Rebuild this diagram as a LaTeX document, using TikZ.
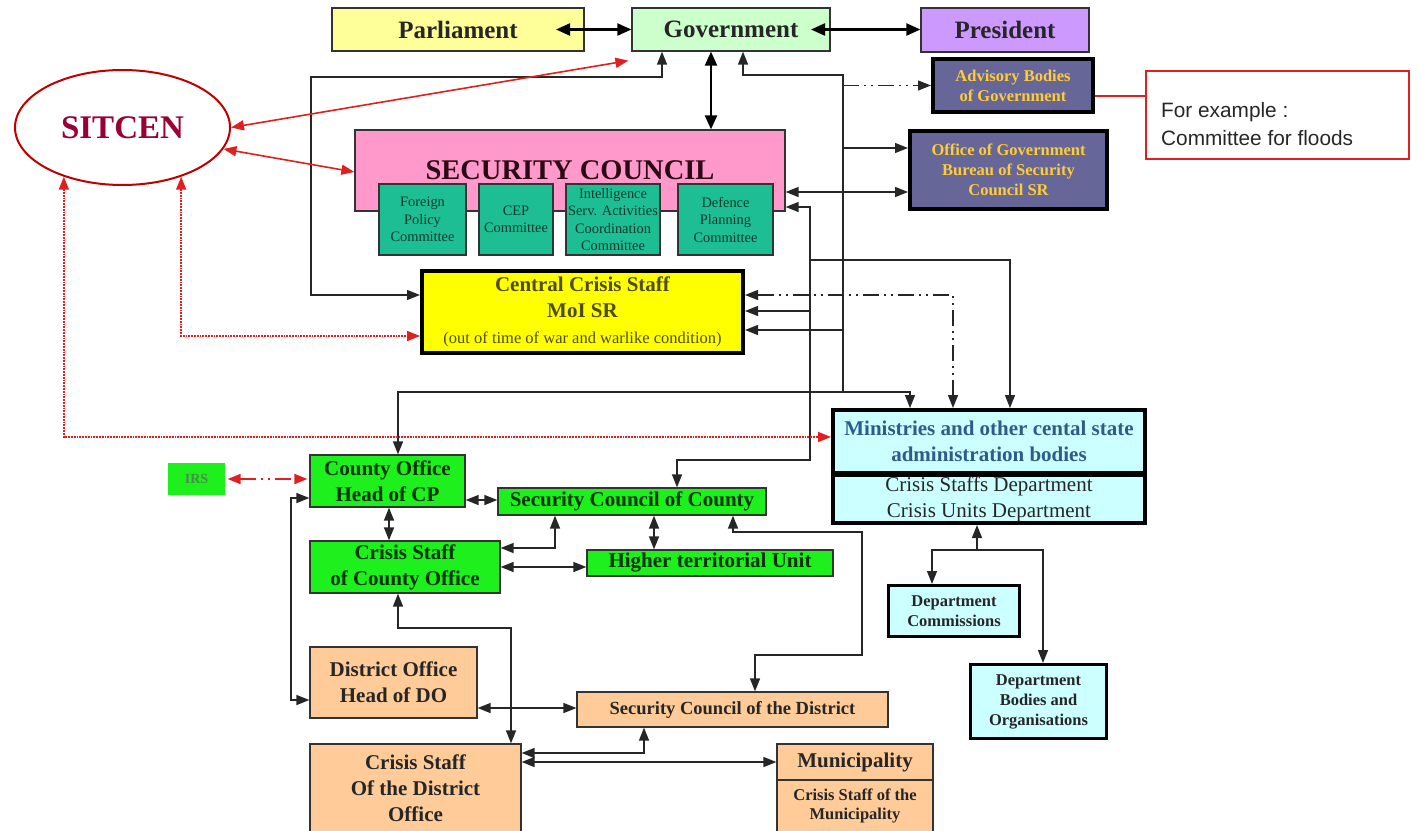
\documentclass[tikz,border=0pt]{standalone}
\usepackage{fontspec}
\setmainfont{Liberation Serif}
\setsansfont{Liberation Sans}
\usetikzlibrary{arrows.meta,shapes.geometric}

\definecolor{parlyellow}{HTML}{FFFF99}
\definecolor{govgreen}{HTML}{CCFFCC}
\definecolor{preslilac}{HTML}{CC99FF}
\definecolor{scpink}{HTML}{FF99CC}
\definecolor{sctext}{HTML}{2B0A14}
\definecolor{comteal}{HTML}{1EBE94}
\definecolor{comtext}{HTML}{0E3A2C}
\definecolor{staffyellow}{HTML}{FFFF00}
\definecolor{stafftext}{HTML}{4E4E0C}
\definecolor{advslate}{HTML}{666699}
\definecolor{advgold}{HTML}{FFCC33}
\definecolor{minicyan}{HTML}{CCFFFF}
\definecolor{miniblue}{HTML}{2E5C8A}
\definecolor{countygreen}{HTML}{1EF01E}
\definecolor{countytext}{HTML}{003300}
\definecolor{irstext}{HTML}{4C8C4C}
\definecolor{districtpeach}{HTML}{FFCC99}
\definecolor{sitcenred}{HTML}{990033}
\definecolor{linkred}{HTML}{E02020}

\tikzset{
  box/.style={draw=black!80, line width=1.2pt, inner sep=0pt, align=center, font=\bfseries},
  heavybox/.style={box, draw=black, line width=4pt},
  topfont/.style={font=\bfseries\fontsize{25}{29}\selectfont, text=black!85},
  comfont/.style={font=\fontsize{14.4}{17.5}\selectfont, text=comtext},
  advfont/.style={font=\bfseries\fontsize{16.5}{20}\selectfont, text=advgold},
  deptfont/.style={font=\bfseries\fontsize{16.5}{20}\selectfont, text=black!85},
  bigfont/.style={font=\bfseries\fontsize{21}{26}\selectfont},
  countybox/.style={box, bigfont, fill=countygreen, text=countytext},
  districtbox/.style={box, bigfont, fill=districtpeach, text=black!85},
  conn/.style={draw=black!85, line width=1.4pt, >={Triangle[length=13pt,width=10pt]}},
  bigconn/.style={conn, draw=black, line width=2.2pt, >={Triangle[length=14pt,width=12pt]}},
  redconn/.style={draw=linkred, line width=1.6pt, >={Triangle[length=13pt,width=10pt]}},
  dotline/.style={redconn, line width=1.8pt, densely dotted},
  dashdotline/.style={dash pattern=on 16pt off 5pt on 2pt off 5pt on 2pt off 5pt},
}

\begin{document}
\begin{tikzpicture}[x=1pt,y=-1pt]
\useasboundingbox (0,0) rectangle (1419,830);

% top row
\node[box, topfont, fill=parlyellow, minimum width=252pt, minimum height=43pt] (parl) at (458,29.5) {Parliament};
\node[box, topfont, fill=govgreen, minimum width=198pt, minimum height=43pt] (gov) at (731,29.5) {Government};
\node[box, topfont, fill=preslilac, minimum width=168pt, minimum height=44pt] (pres) at (1005,30) {President};

\node[draw=red!75!black, line width=2pt, ellipse, minimum width=215pt, minimum height=115pt,
      font=\bfseries\fontsize{33}{38}\selectfont, text=sitcenred] (sitcen) at (122.5,127.5) {SITCEN};

% security council and committees
\node[box, fill=scpink, minimum width=430pt, minimum height=81pt,
      font=\bfseries\fontsize{28.5}{32}\selectfont, text=sctext] (seccouncil) at (570,170.5) {SECURITY COUNCIL};
\node[box, comfont, fill=comteal, minimum width=87pt, minimum height=71pt] (foreign) at (422.5,219.5) {Foreign\\Policy\\Committee};
\node[box, comfont, fill=comteal, minimum width=74pt, minimum height=71pt] (cep) at (516,219.5) {CEP\\Committee};
\node[box, comfont, fill=comteal, minimum width=94pt, minimum height=71pt] (intel) at (613,219.5) {Intelligence\\Serv. Activities\\Coordination\\Committee};
\node[box, comfont, fill=comteal, minimum width=95pt, minimum height=71pt] (defence) at (725.5,219.5) {Defence\\Planning\\Committee};

\node[heavybox, fill=staffyellow, text=stafftext, bigfont, minimum width=321pt, minimum height=82pt] (ccs) at (582.5,312)
  {Central Crisis Staff\\MoI SR\\{\mdseries\fontsize{16.5}{20}\selectfont (out of time of war and warlike condition)}};

% government bodies on the right
\node[heavybox, advfont, fill=advslate, minimum width=160pt, minimum height=53pt] (advisory) at (1013,85.5) {Advisory Bodies\\of Government};
\node[heavybox, advfont, fill=advslate, minimum width=197pt, minimum height=78pt] (office) at (1008.5,170) {Office of Government\\Bureau of Security\\Council SR};
\node[draw=linkred, line width=1.5pt, fill=white, minimum width=263pt, minimum height=88pt] (example) at (1277.5,115) {};
\node[anchor=west, align=left, inner sep=0pt, font=\sffamily\fontsize{20.8}{28}\selectfont, text=black!85] (exampletext) at (1161,124)
  {For example :\\Committee for floods};

% ministries
\node[heavybox, fill=minicyan, text=miniblue, bigfont, minimum width=312pt, minimum height=63pt] (ministop) at (989,441.5)
  {Ministries and other cental state\\administration bodies};
\node[heavybox, fill=minicyan, text=black!85, font=\fontsize{21}{26}\selectfont, minimum width=312pt, minimum height=48pt] (minibot) at (989,499)
  {Crisis Staffs Department\\Crisis Units Department};
\node[box, deptfont, fill=minicyan, draw=black, line width=3pt, minimum width=131pt, minimum height=51pt] (deptcomm) at (954,611) {Department\\Commissions};
\node[box, deptfont, fill=minicyan, draw=black, line width=3pt, minimum width=136pt, minimum height=74pt] (deptbodies) at (1038.5,701.5) {Department\\Bodies and\\Organisations};

% county level
\node[box, fill=countygreen, draw=none, text=irstext, font=\bfseries\fontsize{14}{16}\selectfont, minimum width=57pt, minimum height=32pt] (irs) at (196.5,479) {IRS};
\node[countybox, minimum width=155pt, minimum height=52pt] (county) at (387.5,481) {County Office\\Head of CP};
\node[countybox, minimum width=268pt, minimum height=27pt] (scc) at (632,501.5) {Security Council of County};
\node[countybox, minimum width=190pt, minimum height=52pt] (csco) at (405,567) {Crisis Staff\\of County Office};
\node[countybox, minimum width=246pt, minimum height=26pt] (htu) at (710,563) {Higher territorial Unit};

% district level
\node[districtbox, minimum width=167pt, minimum height=71pt] (district) at (393.5,682.5) {District Office\\Head of DO};
\node[districtbox, font=\bfseries\fontsize{18.5}{22}\selectfont, minimum width=311pt, minimum height=35pt] (scd) at (732.5,709.5) {Security Council of the District};
\node[districtbox, minimum width=211pt, minimum height=88pt] (csdo) at (415.5,788) {Crisis Staff\\Of the District\\Office};
\node[districtbox, minimum width=156pt, minimum height=36pt] (munitop) at (855,762) {Municipality};
\node[districtbox, font=\bfseries\fontsize{16.5}{18.5}\selectfont, minimum width=156pt, minimum height=52pt] (munibot) at (855,806) {Crisis Staff of the\\Municipality};

% top connectors
\draw[bigconn,<->] (556,0 |- parl.east) -- (gov.west);
\draw[bigconn,<->] (811,0 |- gov.east) -- (pres.west |- gov.east);
\draw[bigconn,<->] (711,0 |- gov.south) -- (711,0 |- seccouncil.north);
\draw[conn,<->] (662,0 |- gov.south) |- (311,77) |- (ccs.west |- 0,295);

% bus from government
\draw[conn,<-] (743,0 |- gov.south) |- (843,75) -- (843,392);
\draw[conn,->,dashdotline] (843,0 |- advisory.west) -- (advisory.west);
\draw[conn,->] (843,148) -- (office.west |- 0,148);
\draw[conn,->] (843,330) -- (ccs.east |- 0,330);
\draw[conn,<->] (398,0 |- county.north) |- (910,392) -- (910,0 |- ministop.north);

% bus from security council
\draw[conn,<->] (seccouncil.east |- 0,207) -| (810,460) -| (677,0 |- scc.north);
\draw[conn,->] (810,260) -| (1010,0 |- ministop.north);
\draw[conn,->] (810,311) -- (ccs.east |- 0,311);
\draw[conn,<->] (seccouncil.east |- 0,192) -- (office.west |- 0,192);
\draw[conn,<->,dashdotline] (ccs.east |- 0,295) -| (953,0 |- ministop.north);

% sitcen links
\draw[redconn,<->] (sitcen.east) -- ([shift={(-3,9)}]gov.south west);
\draw[redconn,<->] (sitcen.-12) -- (seccouncil.west |- 0,172);
\draw[dotline,<->] (sitcen.-140) |- (ministop.west |- 0,437);
\draw[dotline,<->] (sitcen.-40) |- (ccs.west |- 0,336);
\draw[redconn,<->,dashdotline,shorten <=2pt,shorten >=2pt] (irs.east) -- (county.west |- irs.east);
\draw[draw=linkred, line width=1.5pt] (advisory.east |- 0,96) -- (example.west |- 0,96);

% county and district links
\draw[conn,<->] (county.west |- 0,498) -| (291,700) -- (district.west |- 0,700);
\draw[conn,<->] (county.east |- 0,500) -- (scc.west |- 0,500);
\draw[conn,<->] (389,0 |- county.south) -- (389,0 |- csco.north);
\draw[conn,<->] (csco.east |- 0,548) -| (555,0 |- scc.south);
\draw[conn,<->] (csco.east |- 0,567) -- (htu.west |- 0,567);
\draw[conn,<->] (654,0 |- scc.south) -- (654,0 |- htu.north);
\draw[conn,<->] (733,0 |- scc.south) |- (862,532) |- (755,655) -- (755,0 |- scd.north);
\draw[conn,<->] (398,0 |- csco.south) |- (511,628) -- (511,0 |- csdo.north);
\draw[conn,<->] (district.east |- 0,708) -- (scd.west |- 0,708);
\draw[conn,<->] (csdo.east |- 0,753) -| (644,0 |- scd.south);
\draw[conn,<->] (csdo.east |- 0,762) -- (munitop.west |- 0,762);

% ministries to departments
\coordinate (mfork) at (977,550);
\draw[conn,<-] (977,0 |- minibot.south) -- (mfork);
\draw[conn,->] (mfork) -| (932,0 |- deptcomm.north);
\draw[conn,->] (mfork) -| (1043,0 |- deptbodies.north);
\end{tikzpicture}
\end{document}
